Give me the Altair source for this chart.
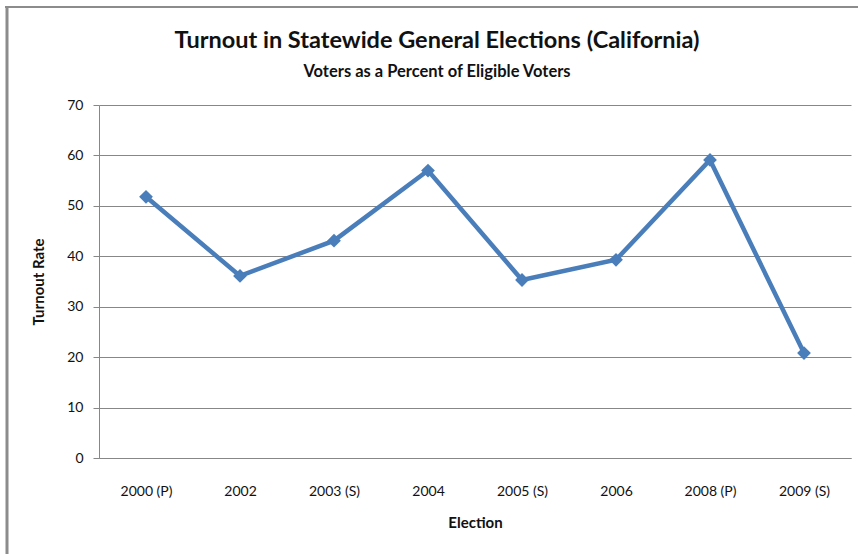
import altair as alt
import pandas as pd

# Election turnout, California statewide general elections
elections = ["2000 (P)", "2002", "2003 (S)", "2004", "2005 (S)", "2006", "2008 (P)", "2009 (S)"]
turnout = [51.8, 36.1, 43.1, 57.0, 35.3, 39.3, 59.1, 20.8]
y_ticks = [0, 10, 20, 30, 40, 50, 60, 70]

title_text = "Turnout in Statewide General Elections (California)"
subtitle_text = "Voters as a Percent of Eligible Voters"

df = pd.DataFrame({"Election": elections, "Turnout": turnout})

FONT = "Lato"
BLUE = "#4a7ebb"
GRAY = "#878787"
INK = "#111111"

x_enc = alt.X(
    "Election:N",
    sort=elections,
    title="Election",
    axis=alt.Axis(
        labelAngle=0,
        labelFontSize=14,
        labelColor=INK,
        labelPadding=26,
        ticks=False,
        domainColor=GRAY,
        titleFontSize=15,
        titleFontWeight="bold",
        titleColor=INK,
        titlePadding=17,
    ),
)
y_enc = alt.Y(
    "Turnout:Q",
    title="Turnout Rate",
    scale=alt.Scale(domain=[0, 70], nice=False),
    axis=alt.Axis(
        values=y_ticks,
        labelFontSize=14,
        labelColor=INK,
        labelPadding=10,
        tickSize=6,
        tickColor=GRAY,
        domainColor=GRAY,
        gridColor=GRAY,
        titleFontSize=15,
        titleFontWeight="bold",
        titleColor=INK,
        titlePadding=20,
    ),
)

base = alt.Chart(df).encode(x=x_enc, y=y_enc)
line = base.mark_line(color=BLUE, strokeWidth=4.5)
points = base.mark_point(shape="diamond", filled=True, size=190, color=BLUE, opacity=1)

# outer chart frame
frame_df = pd.DataFrame({"k": [0]})
left_edge = alt.Chart(frame_df).mark_rule(color="#8c8c8c", strokeWidth=3).encode(
    x=alt.value(-92), y=alt.value(-98), y2=alt.value(460)
)
top_edge = alt.Chart(frame_df).mark_rule(color="#8c8c8c", strokeWidth=2).encode(
    x=alt.value(-94), x2=alt.value(770), y=alt.value(-98)
)

# chart heading: main title and subtitle, centred over the chart frame
heading_df = pd.DataFrame({"title": [title_text], "subtitle": [subtitle_text]})
heading = alt.Chart(heading_df).mark_text(
    font=FONT, fontSize=23.5, fontWeight="bold", color=INK, align="center", baseline="alphabetic"
).encode(text="title:N", x=alt.value(338), y=alt.value(-57))
subheading = alt.Chart(heading_df).mark_text(
    font=FONT, fontSize=16.5, fontWeight="bold", color=INK, align="center", baseline="alphabetic"
).encode(text="subtitle:N", x=alt.value(338), y=alt.value(-28))

chart = (
    alt.layer(left_edge, top_edge, heading, subheading, line, points)
    .properties(
        width=752,
        height=353,
        padding={"left": 99, "top": 105, "right": 7, "bottom": 96},
        autosize=alt.AutoSizeParams(type="none"),
    )
    .configure(font=FONT)
    .configure_view(stroke=None)
    .configure_axis(labelFont=FONT, titleFont=FONT)
)

chart.save("out.html", embed_options={"renderer": "svg", "actions": False})
